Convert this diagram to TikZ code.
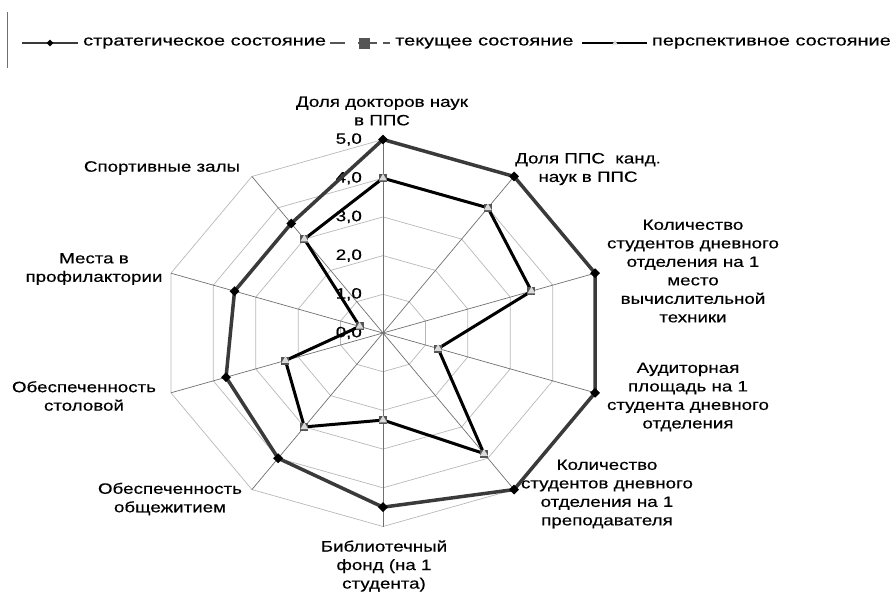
\documentclass[tikz,border=0pt]{standalone}
\usepackage{fontspec}
\setmainfont{Liberation Sans}[FakeStretch=1.25, FakeBold=0.4]
\newfontfamily\legendfont{Liberation Sans}[FakeStretch=1.33, FakeBold=0.4]
\usetikzlibrary{shapes.geometric}
\definecolor{stratline}{HTML}{3A3A3A}
\definecolor{gridgray}{HTML}{B8B8B8}
\definecolor{spokegray}{HTML}{707070}
\definecolor{squaregray}{HTML}{555555}
\definecolor{trigray}{HTML}{DADADA}
\tikzset{
  lbl/.style={align=center, font=\fontsize{15}{18.5}\selectfont, inner sep=0pt},
  leglbl/.style={font=\legendfont\fontsize{15}{18}\selectfont, inner sep=0pt},
  diamondmark/.style={diamond, fill=black, inner sep=0pt, minimum size=10pt},
  squaremark/.style={rectangle, fill=squaregray, inner sep=0pt, minimum size=8pt},
  trimark/.style={regular polygon, regular polygon sides=3, fill=trigray, inner sep=0pt, minimum size=9pt}
}

\begin{document}
\begin{tikzpicture}[x=1pt, y=-1pt]
  \useasboundingbox (0,0) rectangle (895,592);
  % legend
  \draw[spokegray, line width=0.8pt] (7,12) -- (7,68);
  \draw[stratline, line width=2pt] (22,43) -- (78,43);
  \node[diamondmark, minimum size=7pt] (legd) at (50,43) {};
  \node[leglbl, anchor=west] (leg1) at (83,43) {стратегическое состояние};
  \draw[squaregray, line width=1.5pt] (330,43) -- (345,43);
  \draw[squaregray, line width=1.5pt] (358,43) -- (377,43);
  \draw[squaregray, line width=1.5pt] (383,43) -- (390,43);
  \node[squaremark, minimum size=11pt] (legs) at (364,43) {};
  \node[leglbl, anchor=west] (leg2) at (395,43) {текущее состояние};
  \draw[black, line width=2pt] (582,43) -- (647,43);
  \node[trimark, minimum size=6pt] (legt) at (615,43) {};
  \node[leglbl, anchor=east] (leg3) at (891,43) {перспективное состояние};

  % axis labels
  \node[lbl] (a0) at (382,111) {Доля докторов наук\\в ППС};
  \node[lbl] (a1) at (588,169) {Доля ППС\ \ канд.\\наук в ППС};
  \node[lbl] (a2) at (693,271) {Количество\\студентов дневного\\отделения на 1\\место\\вычислительной\\техники};
  \node[lbl] (a3) at (688,397) {Аудиторная\\площадь на 1\\студента дневного\\отделения};
  \node[lbl] (a4) at (607,494) {Количество\\студентов дневного\\отделения на 1\\преподавателя};
  \node[lbl] (a5) at (384,566) {Библиотечный\\фонд (на 1\\студента)};
  \node[lbl] (a6) at (170,499) {Обеспеченность\\общежитием};
  \node[lbl] (a7) at (84,396) {Обеспеченность\\столовой};
  \node[lbl] (a8) at (94,269) {Места в\\профилактории};
  \node[lbl] (a9) at (162,168) {Спортивные залы};

  \begin{scope}[shift={(383,333)}, x=44.6pt, y=38.7pt]
    % grid
    \foreach \r in {1,...,5}
      \draw[gridgray, line width=0.7pt] (90:\r) \foreach \k in {1,...,9} {-- ({90-36*\k}:\r)} -- cycle;
    \foreach \k in {0,...,9}
      \draw[spokegray, line width=0.7pt] (0,0) -- ({90-36*\k}:5);
    \foreach \v in {0,...,5}
      \node[lbl, anchor=east] (tick\v) at (-0.47,\v) {\v,0};

    % series
    \foreach \v [count=\k from 0] in {5,5,5,5,5,4.5,4,3.7,3.5,3.5}
      \coordinate (s\k) at ({90-36*\k}:\v);
    \foreach \v [count=\k from 0] in {4,4,3.5,1.3,3.85,2.25,3,2.3,0.55,3}
      \coordinate (p\k) at ({90-36*\k}:\v);

    \draw[stratline, line width=3.5pt, line join=round] (s0) \foreach \k in {1,...,9} {-- (s\k)} -- cycle;
    \foreach \k in {0,...,9}
      \node[diamondmark] (sd\k) at (s\k) {};
    \draw[squaregray, line width=2pt, dashed] (p0) \foreach \k in {1,...,9} {-- (p\k)} -- cycle;
    \draw[black, line width=3pt, line join=round] (p0) \foreach \k in {1,...,9} {-- (p\k)} -- cycle;
    \foreach \k in {0,...,9} {
      \node[squaremark] (cs\k) at (p\k) {};
      \node[trimark] (pt\k) at (p\k) {};
    }
  \end{scope}
\end{tikzpicture}
\end{document}
